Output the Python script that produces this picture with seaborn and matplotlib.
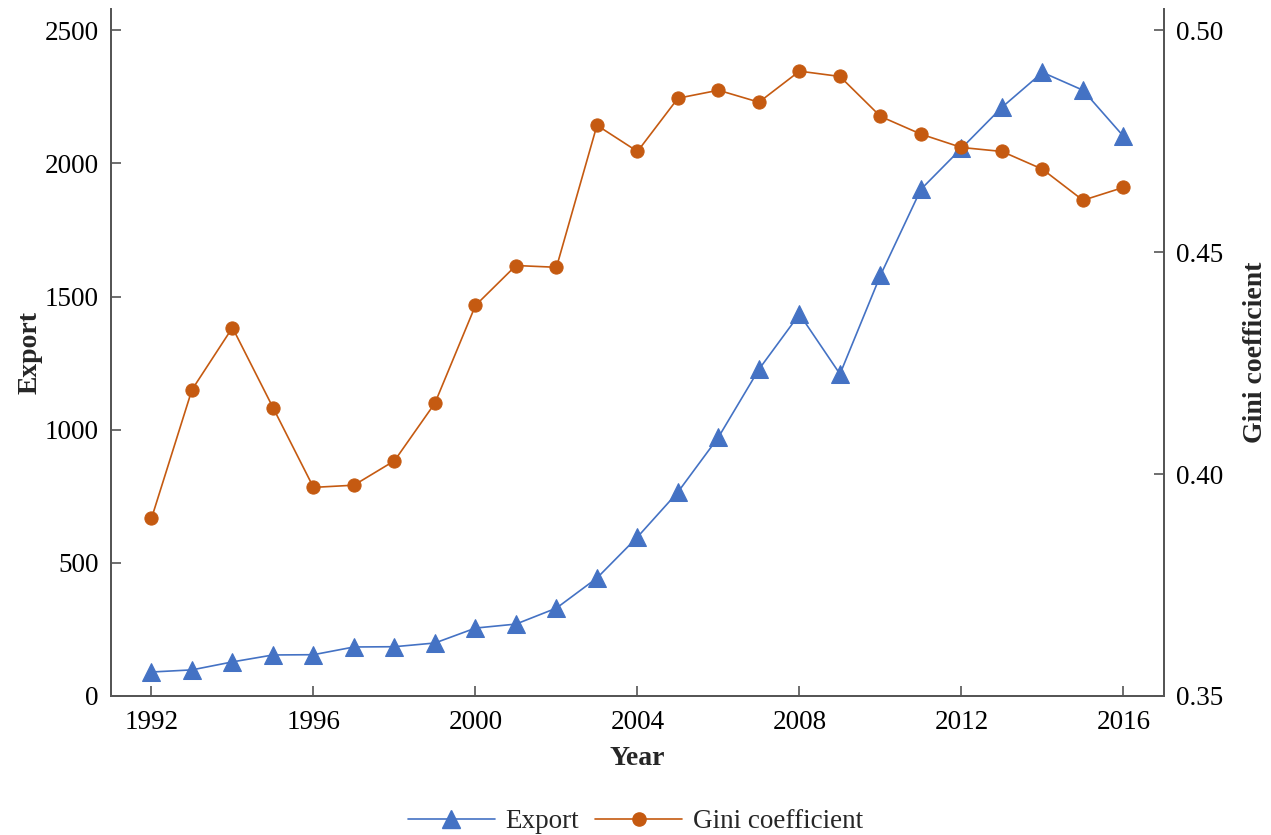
import numpy as np
import pandas as pd
import seaborn as sns
import matplotlib
matplotlib.use('Agg')
import matplotlib.pyplot as plt
from matplotlib.lines import Line2D

# data
years = list(range(1992, 2017))
export = [90, 98, 128, 154, 155, 184, 185, 199, 255, 270, 330, 443, 597, 766, 972,
          1227, 1434, 1209, 1580, 1903, 2057, 2211, 2342, 2275, 2102]
gini = [0.390, 0.419, 0.433, 0.415, 0.397, 0.3975, 0.403, 0.416, 0.438, 0.447, 0.4466,
        0.4786, 0.4727, 0.4847, 0.4865, 0.4838, 0.4908, 0.4896, 0.4806, 0.4766, 0.4736,
        0.4727, 0.4687, 0.4617, 0.4646]

df = pd.DataFrame({'year': years, 'export': export, 'gini': gini})

blue = '#4472C4'
orange = '#C55A11'

sns.set_style('ticks')
plt.rcParams['font.family'] = ['Liberation Serif', 'DejaVu Serif']
plt.rcParams['axes.edgecolor'] = '#555555'

fig = plt.figure(figsize=(12.71, 8.35), dpi=100)
ax = fig.add_axes([0.0873, 0.1665, 0.8285, 0.8227])
ax2 = ax.twinx()

sns.lineplot(data=df, x='year', y='export', ax=ax, color=blue, marker='^', markersize=13,
             markeredgecolor=blue, linewidth=1.2)
sns.lineplot(data=df, x='year', y='gini', ax=ax2, color=orange, marker='o', markersize=9.5,
             markeredgecolor=orange, linewidth=1.2)

ax.set_xlim(1991, 2017)
ax.set_ylim(0, 2580)
ax2.set_ylim(0.35, 0.35 + 0.15 * 2580 / 2500)
ax.set_xticks(np.arange(1992, 2017, 4))
ax.set_yticks(np.arange(0, 2501, 500))
ax2.set_yticks([0.35, 0.40, 0.45, 0.50])
ax2.set_yticklabels(['0.35', '0.40', '0.45', '0.50'])

for a in (ax, ax2):
    a.tick_params(direction='in', length=7, width=1.2, labelsize=19.5, colors='#555555',
                  labelcolor='black', pad=9)
    a.spines['top'].set_visible(False)
    for s in a.spines.values():
        s.set_linewidth(1.3)
ax.tick_params(axis='x', pad=10)

ax.set_xlabel('Year', fontsize=20, fontweight='bold', labelpad=8)
ax.set_ylabel('Export', fontsize=20, fontweight='bold', labelpad=1)
ax2.set_ylabel('Gini coefficient', fontsize=20, fontweight='bold', labelpad=14)

handles = [Line2D([], [], color=blue, marker='^', markersize=13, linewidth=1.2),
           Line2D([], [], color=orange, marker='o', markersize=9.5, linewidth=1.2)]
fig.legend(handles, ['Export', 'Gini coefficient'], loc='lower center', ncol=2,
           bbox_to_anchor=(0.5, -0.028), frameon=False, fontsize=19.5,
           handlelength=3.2, handletextpad=0.4, columnspacing=0.6)

fig.savefig('out.png', dpi=100)
